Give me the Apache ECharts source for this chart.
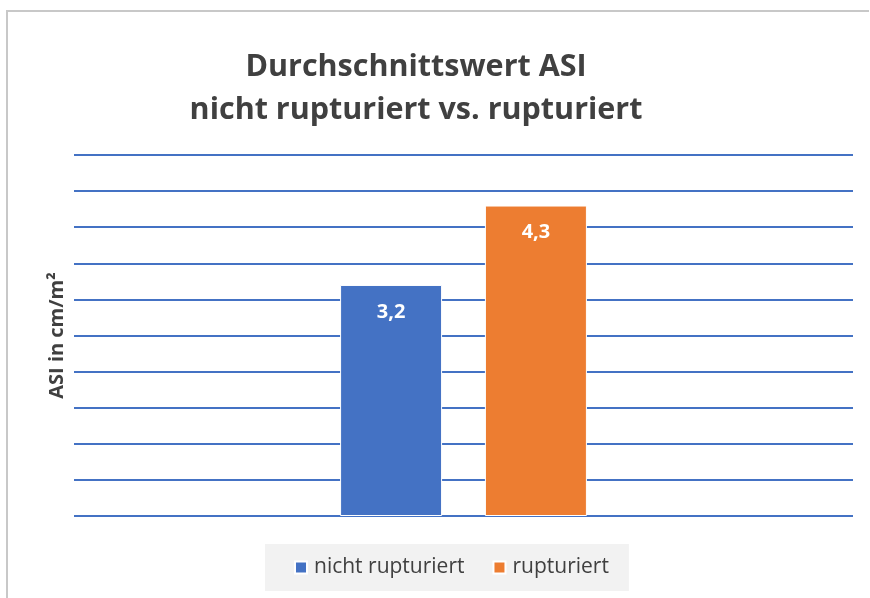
<!DOCTYPE html>
<html><head><meta charset="utf-8">
<script src="https://cdn.jsdelivr.net/npm/echarts@6/dist/echarts.min.js"></script>
<style>html,body{margin:0;padding:0;background:#fff}#c{width:870px;height:598px}</style>
</head><body><div id="c"></div>
<script>
var categories = ['ASI'];
var seriesNames = ['nicht rupturiert', 'rupturiert'];
var valuesNicht = [3.2];
var valuesRupt = [4.3];
var yMin = 0, yMax = 5, yInterval = 0.5;
var titleText = 'Durchschnittswert ASI\nnicht rupturiert vs. rupturiert';
var yAxisName = 'ASI in cm/m²';

var FONT = '"Open Sans", "Noto Sans", sans-serif';
var chart = echarts.init(document.getElementById('c'), null, {renderer: 'canvas'});
function lbl() {
  return {show: true, position: 'insideTop', distance: 17, color: '#ffffff', fontWeight: 'bold',
    fontSize: 20, fontFamily: FONT, formatter: function (p) { return String(p.value).replace('.', ','); }};
}
chart.setOption({
  animation: false,
  title: {text: titleText, left: 411, textAlign: 'center', top: 41,
    textStyle: {fontFamily: FONT, fontWeight: 'bold', fontSize: 30.5, color: '#404040', lineHeight: 43}},
  grid: {left: 74, right: 17, top: 155, bottom: 82},
  legend: {bottom: 7, left: 265, data: seriesNames, icon: 'rect', itemWidth: 12, itemHeight: 12, itemGap: 28,
    backgroundColor: '#f2f2f2', padding: [13, 20, 13, 29],
    textStyle: {fontFamily: FONT, fontSize: 21, color: '#404040', padding: [0, 0, 0, 2]}},
  xAxis: {type: 'category', data: categories, axisLine: {show: false}, axisTick: {show: false}, axisLabel: {show: false}},
  yAxis: {type: 'value', min: yMin, max: yMax, interval: yInterval, name: yAxisName, nameLocation: 'middle', nameGap: 7,
    nameTextStyle: {fontFamily: FONT, fontWeight: 'bold', fontSize: 20, color: '#404040'},
    axisLabel: {show: false}, axisLine: {show: false}, axisTick: {show: false},
    splitLine: {lineStyle: {color: '#4472C4', width: 2}}},
  series: [
    {name: seriesNames[0], type: 'bar', data: valuesNicht, barWidth: 102, barGap: '42%', itemStyle: {color: '#4472C4', borderColor: '#ffffff', borderWidth: 1}, label: lbl()},
    {name: seriesNames[1], type: 'bar', data: valuesRupt, barWidth: 102, itemStyle: {color: '#ED7D31', borderColor: '#ffffff', borderWidth: 1}, label: lbl()}
  ],
  graphic: [
    {type: 'line', shape: {x1: 7, y1: 10, x2: 7, y2: 598}, style: {stroke: '#c8c8c8', lineWidth: 2}},
    {type: 'line', shape: {x1: 6, y1: 11, x2: 869, y2: 11}, style: {stroke: '#c8c8c8', lineWidth: 2}}
  ]
});
</script></body></html>
